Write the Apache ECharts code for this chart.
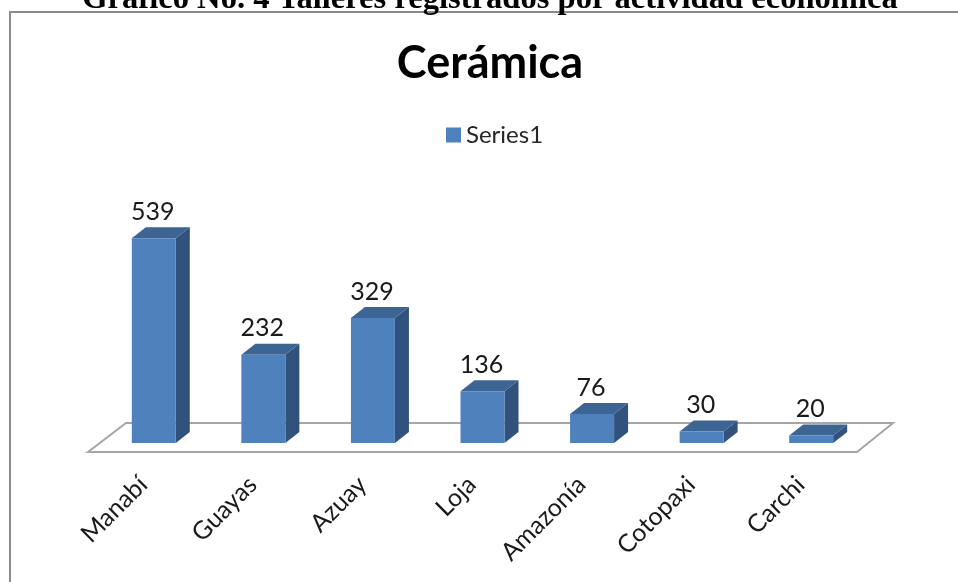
<!DOCTYPE html>
<html><head><meta charset="utf-8">
<style>html,body{margin:0;padding:0;background:#fff}#c{width:958px;height:582px}</style>
<script src="https://cdn.jsdelivr.net/npm/echarts@6/dist/echarts.min.js"></script>
</head><body><div id="c"></div>
<script>
const categories = ["Manabí","Guayas","Azuay","Loja","Amazonía","Cotopaxi","Carchi"];
const values = [539,232,329,136,76,30,20];
const seriesName = "Series1";
const chartTitle = "Cerámica";
const pageHeading = "Gráfico No. 4 Talleres registrados por actividad económica";

const DX = 14, DY = 11, BAR_W = 44;
const chart = echarts.init(document.getElementById('c'), null, {renderer:'canvas'});
const font = 'Lato,"Open Sans",sans-serif';

function floorItem(params, api){
  const a = api.coord([0,0]);
  const size = api.size([1,0]);
  const left = a[0]-size[0]/2, right = left+size[0]*7, y0=a[1];
  return {type:'polygon',silent:true,shape:{points:[
    [left-11,y0+9],[left+27,y0-20],[right+27,y0-20],[right-9,y0+9]
  ]},style:{fill:'#fff',stroke:'#a6a6a6',lineWidth:2}};
}
function barItem(params, api){
  const i = api.value(0), v = api.value(1);
  const b = api.coord([i,0]), t = api.coord([i,v]);
  const x0 = b[0]-BAR_W/2, x1 = x0+BAR_W, y0=b[1], y1=t[1];
  return {type:'group',children:[
    {type:'polygon',shape:{points:[[x1,y1],[x1+DX,y1-DY],[x1+DX,y0-DY],[x1,y0]]},style:{fill:'#31527c'}},
    {type:'polygon',shape:{points:[[x0,y1],[x0+DX,y1-DY],[x1+DX,y1-DY],[x1,y1]]},style:{fill:'#3c6594'}},
    {type:'rect',shape:{x:x0,y:y1,width:BAR_W,height:y0-y1},style:{fill:'#4f81bd'}},
    {type:'text',style:{text:String(v),x:(x0+x1)/2-1,y:y1-DY-3,align:'center',verticalAlign:'bottom',
      fill:'#1a1a1a',font:'25px '+font}}
  ]};
}
chart.setOption({
  animation:false,
  backgroundColor:'#fff',
  title:{text:chartTitle,left:485,top:36,textAlign:'center',
    textStyle:{fontFamily:font,fontSize:45,fontWeight:'bold',color:'#000'}},
  legend:{show:true,left:441,top:118,itemWidth:15,itemHeight:15,itemGap:10,
    data:[{name:seriesName,icon:'rect',itemStyle:{color:'#4f81bd'}}],
    textStyle:{fontFamily:font,fontSize:24,color:'#262626'}},
  grid:{left:99,width:767,top:215,height:228},
  xAxis:{type:'category',data:categories,
    axisLine:{show:false},axisTick:{show:false},
    axisLabel:{rotate:45,interval:0,margin:27,padding:[0,15,0,0],fontFamily:font,fontSize:25,color:'#1a1a1a'}},
  yAxis:{type:'value',min:0,max:600,show:false,splitLine:{show:false}},
  graphic:[
    {type:'rect',shape:{x:10,y:12,width:1000,height:700},style:{fill:'none',stroke:'#8c8c8c',lineWidth:2},z:-1},
    {type:'text',style:{text:pageHeading,x:490,y:-17,align:'center',fill:'#000',
      font:'bold 32.6px "Liberation Serif",serif'}}
  ],
  series:[
    {type:'custom',coordinateSystem:'cartesian2d',silent:true,z:1,renderItem:floorItem,data:[[0,0]],encode:{x:0,y:1},tooltip:{show:false}},
    {name:seriesName,type:'custom',coordinateSystem:'cartesian2d',z:2,renderItem:barItem,
      data:values.map((v,i)=>[i,v]),encode:{x:0,y:1},itemStyle:{color:'#4f81bd'}}
  ]
});
</script></body></html>
